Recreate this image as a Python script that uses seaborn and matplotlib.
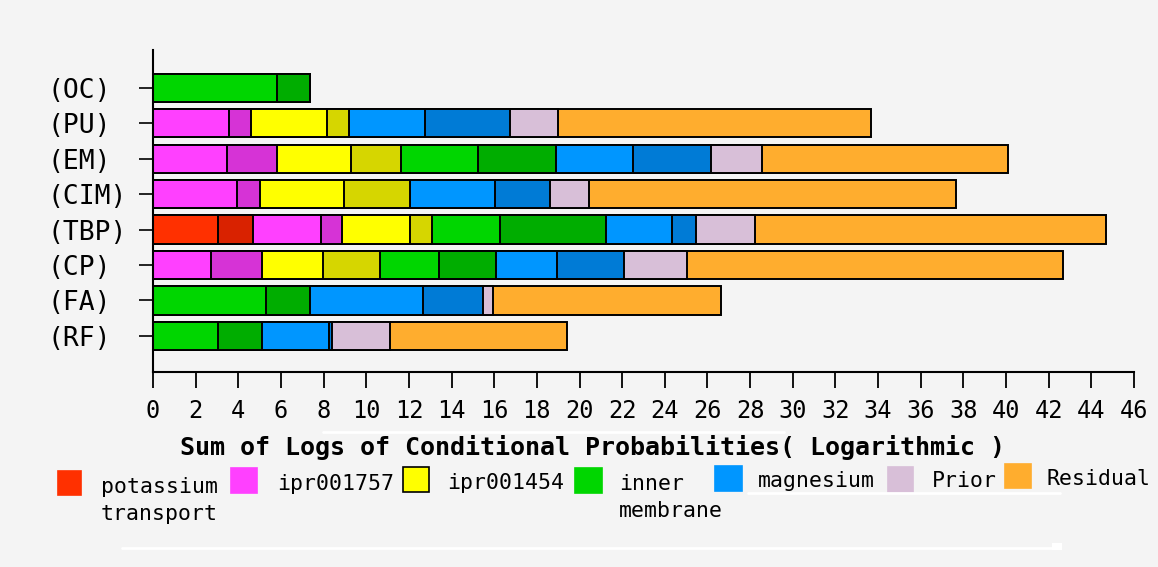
import numpy as np
import matplotlib
matplotlib.use("Agg")
import matplotlib.pyplot as plt
from matplotlib.patches import Rectangle
from matplotlib.lines import Line2D
import seaborn as sns

categories = ["(OC)", "(PU)", "(EM)", "(CIM)", "(TBP)", "(CP)", "(FA)", "(RF)"]

# Segment widths per category, listed in stacking order (left to right)
potassium_a = [0, 0, 0, 0, 3.05, 0, 0, 0]
potassium_b = [0, 0, 0, 0, 1.64, 0, 0, 0]
ipr001757_a = [0, 3.55, 3.46, 3.96, 3.17, 2.74, 0, 0]
ipr001757_b = [0, 1.03, 2.36, 1.04, 1.02, 2.36, 0, 0]
ipr001454_a = [0, 3.56, 3.45, 3.97, 3.15, 2.85, 0, 0]
ipr001454_b = [0, 1.03, 2.37, 3.08, 1.05, 2.68, 0, 0]
inner_a = [5.81, 0, 3.58, 0, 3.17, 2.76, 5.30, 3.07]
inner_b = [1.56, 0, 3.69, 0, 5.01, 2.68, 2.06, 2.03]
magnesium_a = [0, 3.60, 3.59, 3.98, 3.07, 2.87, 5.32, 3.17]
magnesium_b = [0, 3.98, 3.68, 2.58, 1.14, 3.14, 2.78, 0.13]
prior = [0, 2.25, 2.36, 1.83, 2.75, 2.97, 0.48, 2.73]
residual = [0, 14.68, 11.56, 17.22, 16.48, 17.61, 10.68, 8.30]

segments = [potassium_a, potassium_b, ipr001757_a, ipr001757_b,
            ipr001454_a, ipr001454_b, inner_a, inner_b,
            magnesium_a, magnesium_b, prior, residual]
segment_colors = ["#FF3000", "#D92200", "#FF40FF", "#D633D6",
                  "#FFFF00", "#D6D600", "#00D600", "#00AD00",
                  "#0096FF", "#007BD6", "#D8BFD8", "#FFAD2E"]

legend_labels = [["potassium", "transport"], ["ipr001757"], ["ipr001454"],
                 ["inner", "membrane"], ["magnesium"], ["Prior"], ["Residual"]]
legend_colors = ["#FF3000", "#FF40FF", "#FFFF00", "#00D600",
                 "#0096FF", "#D8BFD8", "#FFAD2E"]

x_ticks = list(range(0, 47, 2))
x_title = "Sum of Logs of Conditional Probabilities( Logarithmic )"

BG = "#F4F4F4"
sns.set_style("white")
plt.rcParams["font.family"] = ["DejaVu Sans Mono", "DejaVu Sans"]
plt.rcParams.update({"text.color": "black", "axes.labelcolor": "black",
                     "xtick.color": "black", "ytick.color": "black"})

W, H = 1158, 567
fig = plt.figure(figsize=(W / 100, H / 100), dpi=100, facecolor=BG)


def fx(px):
    return px / W


def fy(py):
    return 1 - py / H


ax = fig.add_axes([fx(153), fy(372), fx(1134) - fx(153), fy(50) - fy(372)])
ax.set_facecolor(BG)

# Stacked bars: draw cumulative totals from the longest down so each
# shorter run paints over the previous one.
cum = np.cumsum(np.array(segments, dtype=float), axis=0)
for values, color in zip(cum[::-1], segment_colors[::-1]):
    sns.barplot(x=values, y=categories, orient="h", color=color,
                saturation=1, edgecolor="black", linewidth=1.4,
                width=0.8, errorbar=None, ax=ax)

ax.set_xlim(0, 46)
ax.set_ylim(8.02, -1.07)
ax.set_xticks(x_ticks)
ax.set_xticklabels([str(t) for t in x_ticks])
ax.set_ylabel("")
ax.set_xlabel(x_title, fontsize=18, fontweight="bold", color="black")
ax.xaxis.set_label_coords((593 - 153) / (1134 - 153), -0.195)

for side in ["top", "right"]:
    ax.spines[side].set_visible(False)
for side in ["left", "bottom"]:
    ax.spines[side].set_color("black")
    ax.spines[side].set_linewidth(1.5)

ax.tick_params(axis="x", bottom=True, direction="out", length=11.5, width=1.3,
               color="black", labelcolor="black", labelsize=17, pad=8)
ax.tick_params(axis="y", left=True, direction="out", length=10, width=1.2,
               color="black", labelcolor="black", labelsize=19, pad=66)
for lab in ax.get_yticklabels():
    lab.set_horizontalalignment("left")

# Legend row
patch_boxes = [(58, 81, 471, 495), (231, 257, 468, 493), (403, 429, 467, 492),
               (575, 602, 468, 493), (715, 742, 466, 491), (888, 913, 467, 492),
               (1005, 1031, 464, 488)]
text_pos = [(101, 493), (277, 490), (447, 489), (619, 490), (758, 487),
            (932, 487), (1047, 485)]
for (x0, x1, y0, y1), color, lines, (tx, ty) in zip(patch_boxes, legend_colors,
                                                     legend_labels, text_pos):
    edge = "black" if color == "#FFFF00" else color
    fig.add_artist(Rectangle((fx(x0), fy(y1)), fx(x1) - fx(x0), fy(y0) - fy(y1),
                             transform=fig.transFigure, facecolor=color,
                             edgecolor=edge, linewidth=1.2))
    for i, line in enumerate(lines):
        fig.text(fx(tx), fy(ty + 27 * i), line, fontsize=15.5,
                 ha="left", va="baseline", color="black")

# Thin white rules
for (x0, x1, yy) in [(323, 784, 432), (748, 1060, 493), (122, 1055, 548)]:
    fig.add_artist(Line2D([fx(x0), fx(x1)], [fy(yy), fy(yy)],
                          transform=fig.transFigure, color="white", linewidth=2))
fig.add_artist(Rectangle((fx(1052), fy(550)), fx(1062) - fx(1052), fy(543) - fy(550),
                         transform=fig.transFigure, facecolor="white",
                         edgecolor="none"))

fig.savefig("out.png", dpi=100, facecolor=BG)
